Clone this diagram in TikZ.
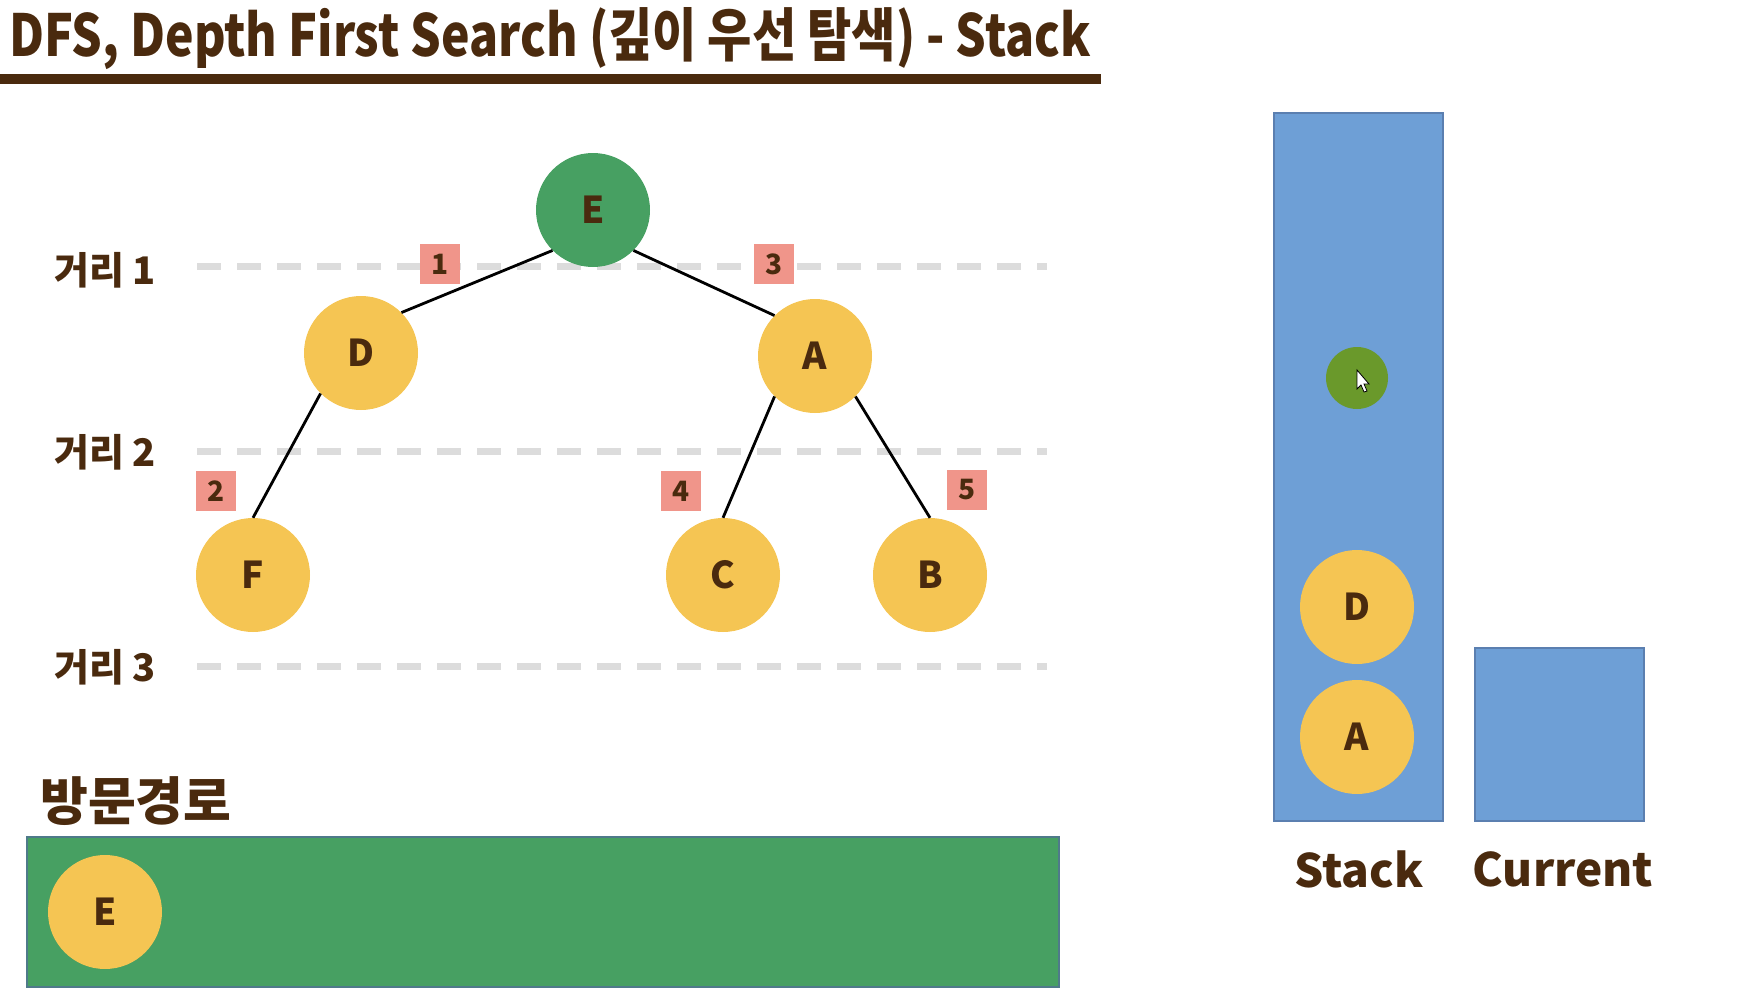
\documentclass[tikz,border=0pt]{standalone}
\usepackage{fontspec}
\setmainfont{Noto Sans CJK KR}
\definecolor{txt}{HTML}{4A2A0E}
\definecolor{grn}{HTML}{47A062}
\definecolor{yel}{HTML}{F5C553}
\definecolor{sal}{HTML}{F0958A}
\definecolor{blu}{HTML}{6E9FD6}
\definecolor{bluB}{HTML}{5B7FB0}
\definecolor{dgray}{HTML}{DCDCDC}
\definecolor{dotg}{HTML}{6A992B}
\definecolor{barB}{HTML}{4F7A8A}
\tikzset{
  vert/.style={circle,minimum size=114pt,inner sep=0pt,fill=yel,text=txt,font=\fontsize{37}{37}\selectfont\bfseries},
  badge/.style={rectangle,minimum size=40pt,inner sep=0pt,fill=sal,text=txt,font=\fontsize{28}{28}\selectfont\bfseries},
  lvl/.style={draw=dgray,line width=7pt,dash pattern=on 24pt off 16pt},
  lvltxt/.style={text=txt,font=\fontsize{38}{38}\selectfont\bfseries,anchor=west,inner sep=0pt},
  link/.style={draw=black,line width=2.8pt},
  boxst/.style={fill=blu,draw=bluB,line width=1.5pt},
  captxt/.style={text=txt,font=\fontsize{46}{46}\selectfont\bfseries,inner sep=0pt}
}
\begin{document}
\begin{tikzpicture}[x=1pt,y=-1pt]
\useasboundingbox (0,0) rectangle (1762,998);
% title
\node[anchor=west,inner sep=0pt,text=txt,font=\fontsize{58}{58}\selectfont\bfseries] (title) at (9,39) {\scalebox{0.83}[1]{DFS, Depth First Search (깊이 우선 탐색) - Stack}};
\fill[txt] (0,74) rectangle (1101,84);
% level lines
\draw[lvl] (197,266) -- (1047,266);
\draw[lvl] (197,451) -- (1047,451);
\draw[lvl] (197,666) -- (1047,666);
\node[lvltxt] (l1) at (54,270) {거리 1};
\node[lvltxt] (l2) at (54,452) {거리 2};
\node[lvltxt] (l3) at (54,667) {거리 3};
% tree
\node[vert,fill=grn] (E) at (593,210) {E};
\node[vert] (D) at (361,353) {D};
\node[vert] (A) at (815,356) {A};
\node[vert] (F) at (253,575) {F};
\node[vert] (C) at (723,575) {C};
\node[vert] (B) at (930,575) {B};
\draw[link] (E.south west) -- (D.north east);
\draw[link] (E.south east) -- (A.north west);
\draw[link] (D.south west) -- (F.north);
\draw[link] (A.south west) -- (C.north);
\draw[link] (A.south east) -- (B.north);
\node[badge] (b1) at (440,264) {1};
\node[badge] (b3) at (774,264) {3};
\node[badge] (b2) at (216,491) {2};
\node[badge] (b4) at (681,491) {4};
\node[badge] (b5) at (967,490) {5};
% stack
\draw[boxst] (1274,113) rectangle (1443,821);
\fill[dotg] (1357,378) circle (31);
\draw[fill=white,draw=black,line width=0.8pt] (1357,370) -- (1357,389) -- (1361,385) -- (1364,392) -- (1367,391) -- (1364,384) -- (1369,384) -- cycle;
\node[vert] (sD) at (1357,607) {D};
\node[vert] (sA) at (1357,737) {A};
\draw[boxst] (1475,648) rectangle (1644,821);
\node[captxt] (stk) at (1359,869) {Stack};
\node[captxt] (cur) at (1563,869) {Current};
% visit path
\node[anchor=west,inner sep=0pt,text=txt,font=\fontsize{52}{52}\selectfont\bfseries] (path) at (40,801) {방문경로};
\draw[fill=grn,draw=barB,line width=1.5pt] (27,837) rectangle (1059,987);
\node[vert] (pE) at (105,912) {E};
\end{tikzpicture}
\end{document}
